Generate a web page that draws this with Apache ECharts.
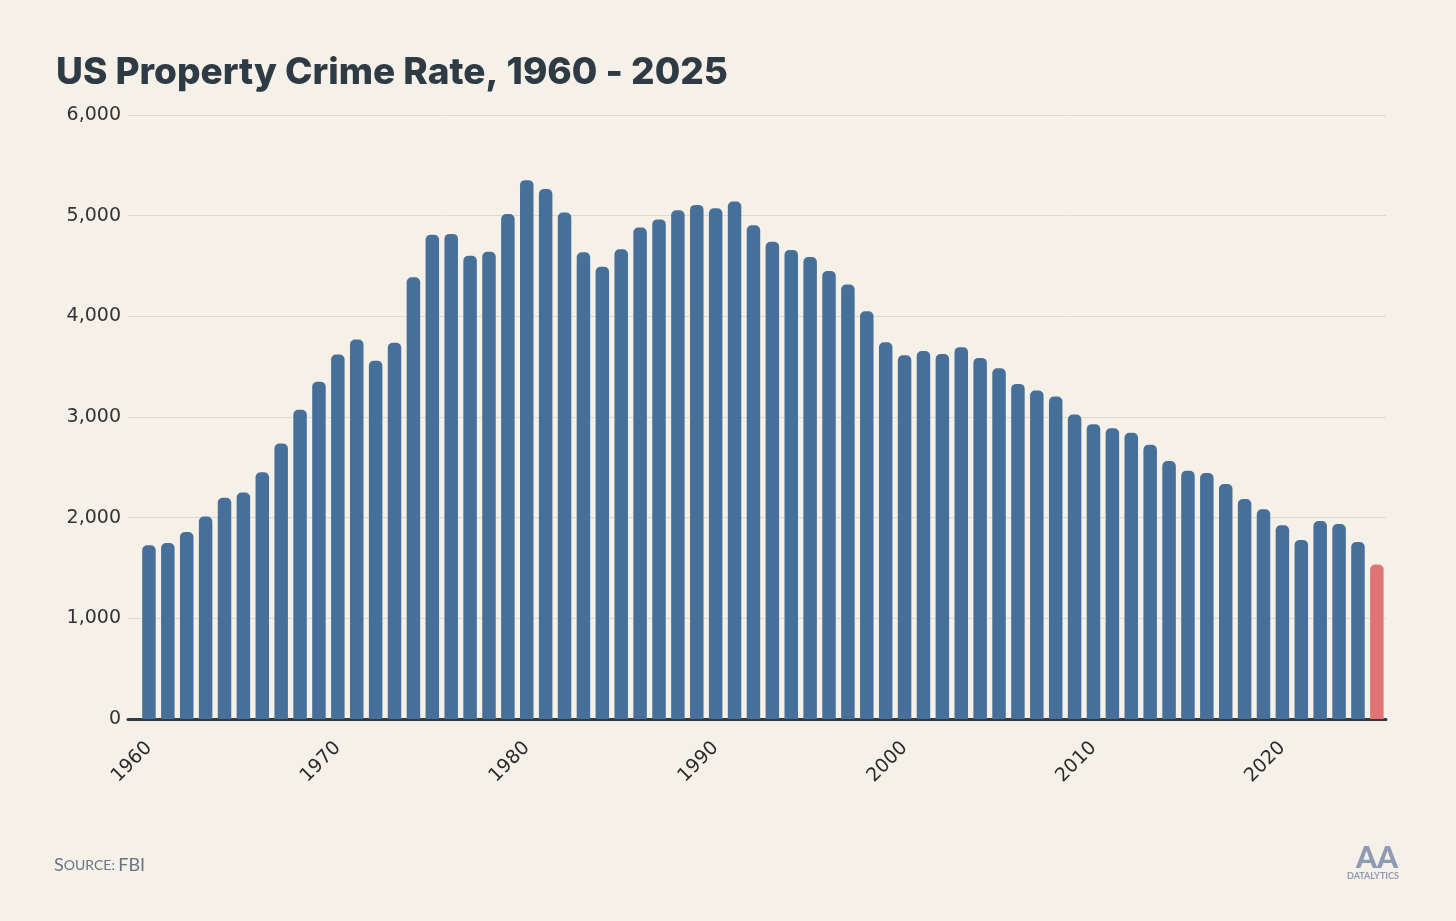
<!DOCTYPE html>
<html lang="en">
<head>
<meta charset="UTF-8">
<title>US Property Crime Rate</title>
<script type="text/javascript" src="https://cdn.jsdelivr.net/npm/echarts@6/dist/echarts.min.js"></script>
<style type="text/css">
	html, body { margin:0; padding:0; background:#f5f0e8; }
	#chart { width:1456px; height:921px; }
</style>
</head>
<body>
<div id="chart"></div>
<script type="text/javascript">
	// property crimes per 100k
	var years = [];
	for (var y = 1960; y <= 2025; y++) { years.push(String(y)); }
	var rates = [
		1726, 1748, 1857, 2012, 2197, 2249, 2451, 2736, 3072, 3351,
		3621, 3769, 3560, 3737, 4389, 4811, 4819, 4601, 4642, 5017,
		5353, 5264, 5032, 4637, 4492, 4666, 4882, 4963, 5054, 5107,
		5073, 5140, 4904, 4740, 4660, 4590, 4451, 4316, 4050, 3742,
		3613, 3656, 3626, 3694, 3587, 3484, 3329, 3263, 3203, 3025,
		2929, 2889, 2843, 2724, 2562, 2466, 2443, 2334, 2185, 2083,
		1924, 1779, 1967, 1937, 1759, 1534
	];
	var yTicks = [0, 1000, 2000, 3000, 4000, 5000, 6000];
	var highlightYear = '2025';

	var blue = '#46709a', red = '#e07474', ink = '#2e3a44';

	var barData = rates.map(function(v, i){
		return {
			value: v,
			itemStyle: { color: years[i] === highlightYear ? red : blue }
		};
	});

	var chart = echarts.init(document.getElementById('chart'));
	var option = {
		backgroundColor: '#f5f0e8',
		animation: false,
		title: {
			text: 'US Property Crime Rate, 1960 - 2025',
			left: 51, top: 49,
			textStyle: { fontFamily: 'Inter', fontWeight: 800, fontSize: 37, color: ink }
		},
		grid: [
			// grid 0: gridlines, y labels and base line
			{ left: 128, right: 70, top: 115, bottom: 202 },
			// grid 1: bars
			{ left: 139.5, right: 69.7, top: 115, bottom: 202 }
		],
		xAxis: [{
			gridIndex: 0, type: 'value', min: 0, max: 1,
			axisLine: { show: true, onZero: false, lineStyle: { color: ink, width: 3 } },
			axisTick: { show: false }, axisLabel: { show: false }, splitLine: { show: false }
		}, {
			gridIndex: 1, type: 'category', data: years,
			axisLine: { show: false }, axisTick: { show: false },
			axisLabel: {
				interval: 9, rotate: 45, margin: 26,
				fontFamily: 'DejaVu Sans', fontSize: 19, color: '#2a2a2a'
			}
		}],
		yAxis: [{
			gridIndex: 0, type: 'value', min: 0, max: 6000, interval: 1000,
			axisLine: { show: false }, axisTick: { show: false },
			axisLabel: {
				margin: 7, fontFamily: 'DejaVu Sans', fontSize: 19, color: '#333',
				formatter: function(v){ return yTicks.indexOf(v) < 0 ? '' : v.toLocaleString('en-US'); }
			},
			splitLine: { lineStyle: { color: '#dedad2', width: 1 } }
		}, {
			gridIndex: 1, type: 'value', min: 0, max: 6000, interval: 1000,
			axisLine: { show: false }, axisTick: { show: false },
			axisLabel: { show: false }, splitLine: { show: false }
		}],
		series: [{
			type: 'bar',
			xAxisIndex: 1, yAxisIndex: 1,
			data: barData,
			barWidth: 13.5,
			itemStyle: { borderRadius: [5, 5, 0, 0] },
			z: 1
		}],
		graphic: [{
			type: 'text', left: 54, top: 856,
			style: {
				text: '{a|S}{b|OURCE:} {a|FBI}',
				rich: {
					a: { fontFamily: 'Lato', fontSize: 18, fill: '#6b7480' },
					b: { fontFamily: 'Lato', fontSize: 14, fill: '#6b7480' }
				}
			}
		}, {
			type: 'text', left: 1356, top: 843,
			style: { text: 'AA', font: '900 30px Lato', fill: '#8e9bb2', letterSpacing: -10 }
		}, {
			type: 'text', left: 1347, top: 872,
			style: { text: 'DATALYTICS', font: 'bold 9px Lato', fill: '#8e9bb2' }
		}]
	};
	chart.setOption(option, true);
</script>
</body>
</html>
